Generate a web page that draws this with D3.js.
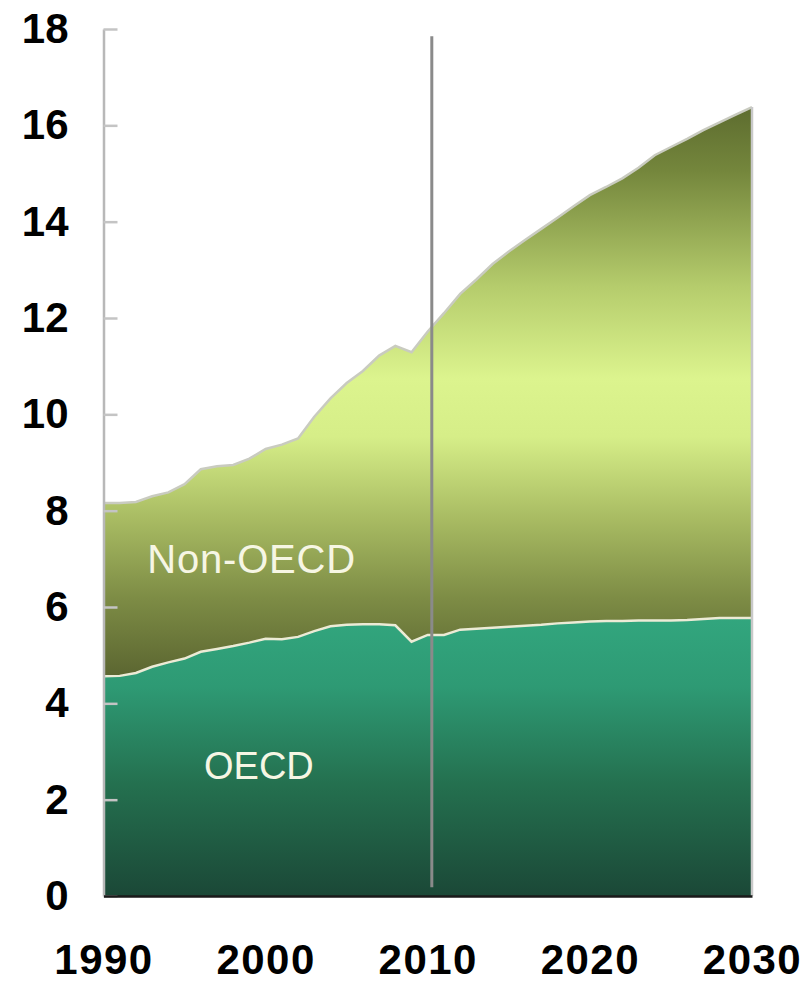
<!DOCTYPE html>
<html>
<head>
<meta charset="utf-8">
<script src="https://cdn.jsdelivr.net/npm/d3@7"></script>
<style>
  html, body { margin: 0; padding: 0; background: #ffffff; }
  svg { display: block; }
</style>
</head>
<body>
<svg id="chart" width="808" height="983"></svg>
<script>
const years = [1990,1991,1992,1993,1994,1995,1996,1997,1998,1999,2000,2001,2002,2003,2004,2005,2006,2007,2008,2009,2010,
  2011,2012,2013,2014,2015,2016,2017,2018,2019,2020,2021,2022,2023,2024,2025,2026,2027,2028,2029,2030];
const oecd = [4.56,4.57,4.63,4.76,4.85,4.93,5.07,5.13,5.19,5.26,5.34,5.33,5.38,5.50,5.60,5.63,5.64,5.64,5.62,5.28,5.42,
  5.42,5.53,5.55,5.57,5.59,5.61,5.63,5.66,5.68,5.70,5.71,5.71,5.72,5.72,5.72,5.73,5.75,5.77,5.77,5.77];
const nonOecd = [3.60,3.59,3.55,3.54,3.53,3.62,3.79,3.79,3.76,3.82,3.94,4.04,4.12,4.45,4.73,5.02,5.26,5.58,5.80,6.01,6.30,
  6.68,6.97,7.25,7.55,7.79,8.01,8.22,8.42,8.64,8.85,9.01,9.19,9.40,9.66,9.83,9.99,10.15,10.29,10.45,10.61];
const seriesKeys = ["OECD", "Non-OECD"];
const yTicks = [0,2,4,6,8,10,12,14,16,18];
const xTicks = [1990,2000,2010,2020,2030];
const dividerYear = 2010.25;

(function () {
const svg = d3.select("#chart");
const mLeft = 103.5, mRight = 752, mTop = 29, mBottom = 896;

const x = d3.scaleLinear().domain([1990, 2030]).range([mLeft, mRight]);
const y = d3.scaleLinear().domain([0, 18]).range([mBottom, mTop]);

const rows = years.map((yr, i) => ({year: yr, "OECD": oecd[i], "Non-OECD": nonOecd[i]}));
const stacked = d3.stack().keys(seriesKeys)(rows);

const defs = svg.append("defs");
const gNon = defs.append("linearGradient").attr("id", "gNon")
  .attr("gradientUnits", "userSpaceOnUse")
  .attr("x1", 0).attr("x2", 0).attr("y1", y(16.5)).attr("y2", y(4.5));
[[0, "#5b6a2e"], [0.12, "#74863c"], [0.32, "#b5cc6c"], [0.48, "#dcf48e"], [0.58, "#d6ee88"], [0.72, "#a9bc63"], [0.86, "#7d8c45"], [1, "#5a6430"]]
  .forEach(([o, c]) => gNon.append("stop").attr("offset", o).attr("stop-color", c));
const gO = defs.append("linearGradient").attr("id", "gO")
  .attr("gradientUnits", "userSpaceOnUse")
  .attr("x1", 0).attr("x2", 0).attr("y1", y(5.8)).attr("y2", y(0));
[[0, "#32a67e"], [0.25, "#2e9a74"], [0.6, "#24704f"], [1, "#1b4837"]]
  .forEach(([o, c]) => gO.append("stop").attr("offset", o).attr("stop-color", c));

const area = d3.area().x(d => x(d.data.year)).y0(d => y(d[0])).y1(d => y(d[1]));
svg.append("path").datum(stacked[0]).attr("d", area).attr("fill", "url(#gO)");
svg.append("path").datum(stacked[1]).attr("d", area).attr("fill", "url(#gNon)");

const topLine = d3.line().x(d => x(d.data.year)).y(d => y(d[1]));
svg.append("path").datum(stacked[0]).attr("d", topLine)
  .attr("fill", "none").attr("stroke", "#ecebd6").attr("stroke-width", 2.5);
svg.append("path").datum(stacked[1]).attr("d", topLine)
  .attr("fill", "none").attr("stroke", "#c9cbc0").attr("stroke-width", 2.5);

// right edge
const lastTop = stacked[1][stacked[1].length - 1][1];
svg.append("line")
  .attr("x1", x(2030)).attr("x2", x(2030)).attr("y1", y(lastTop)).attr("y2", y(0))
  .attr("stroke", "#c8c8c8").attr("stroke-width", 2.5);

// y axis
const yAxis = svg.append("g").attr("transform", `translate(${mLeft},0)`)
  .call(d3.axisLeft(y).tickValues(yTicks).tickSizeInner(-14).tickSizeOuter(0).tickPadding(35));
yAxis.select(".domain").attr("stroke", "#b8b8b8").attr("stroke-width", 2.5);
yAxis.selectAll(".tick line").attr("stroke", "#c4c4c4").attr("stroke-width", 2.5);
yAxis.selectAll(".tick text")
  .attr("font-family", "Liberation Sans, Arial, sans-serif")
  .attr("font-weight", "bold").attr("font-size", 42).attr("fill", "#000");

// x axis
const xAxis = svg.append("g").attr("transform", `translate(0,${mBottom})`)
  .call(d3.axisBottom(x).tickValues(xTicks).tickFormat(d3.format("d")).tickSize(0).tickPadding(48));
xAxis.select(".domain").attr("stroke", "#1a1a1a").attr("stroke-width", 2.5);
xAxis.selectAll(".tick text")
  .attr("font-family", "Liberation Sans, Arial, sans-serif")
  .attr("font-weight", "bold").attr("font-size", 42).attr("letter-spacing", 1.5).attr("fill", "#000");

// divider
svg.append("line")
  .attr("x1", x(dividerYear)).attr("x2", x(dividerYear))
  .attr("y1", y(17.85)).attr("y2", y(0.18))
  .attr("stroke", "#8a8a8a").attr("stroke-width", 3);

// labels
svg.append("text").attr("x", x(1992.7)).attr("y", y(6.7))
  .attr("font-family", "Liberation Sans, Arial, sans-serif")
  .attr("font-size", 40).attr("fill", "#f6f6e4").attr("letter-spacing", 0.8)
  .text("Non-OECD");
svg.append("text").attr("x", x(1996.2)).attr("y", y(2.43))
  .attr("font-family", "Liberation Sans, Arial, sans-serif")
  .attr("font-size", 38).attr("fill", "#f6f6e4")
  .text("OECD");
})();
</script>
</body>
</html>
